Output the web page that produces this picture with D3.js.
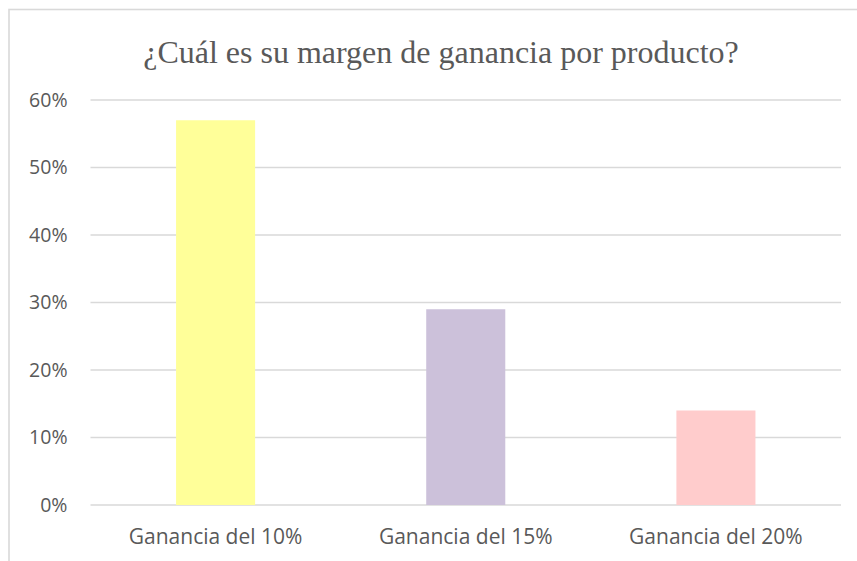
<!DOCTYPE html>
<html>
  <head>
    <meta charset="utf-8">
    <title>Margen de ganancia</title>
    <script src="https://d3js.org/d3.v7.min.js"></script>
    <style>
      body { margin: 0; background: #fff; }
      .tick text { fill: #595959; font-family: "Open Sans", sans-serif; font-size: 21px; }
      .y-axis .tick text { font-size: 19.5px; }
    </style>
  </head>
  <body>
    <svg width="857" height="561"></svg>

    <script>
      // chart data
      const categories = ["Ganancia del 10%", "Ganancia del 15%", "Ganancia del 20%"];
      const values = [0.57, 0.29, 0.14];
      const barColors = ["#FFFF99", "#CCC1DA", "#FFCCCC"];
      const yTicks = [0, 0.1, 0.2, 0.3, 0.4, 0.5, 0.6];

      const svg = d3.select("svg");

      // outer chart frame (runs past the right and bottom edge)
      svg.append("rect")
        .attr("x", 9).attr("y", 9.5)
        .attr("width", 870).attr("height", 580)
        .attr("fill", "#fff")
        .attr("stroke", "#d9d9d9")
        .attr("stroke-width", 1.6);

      // title
      svg.append("text")
        .attr("x", 441)
        .attr("y", 63)
        .attr("text-anchor", "middle")
        .attr("font-family", "'Liberation Serif', 'Times New Roman', serif")
        .attr("font-size", 32)
        .attr("fill", "#595959")
        .text("¿Cuál es su margen de ganancia por producto?");

      let x = d3.scaleBand()
        .domain(categories)
        .range([90.5, 841])
        .paddingInner(0.684)
        .paddingOuter(0.342);

      let y = d3.scaleLinear()
        .domain([0, 0.6])
        .range([505, 100]);

      // gridlines
      svg.append("g")
        .selectAll("line")
        .data(yTicks)
        .enter().append("line")
          .attr("x1", 90.5).attr("x2", 841)
          .attr("y1", d => y(d)).attr("y2", d => y(d))
          .attr("stroke", "#d9d9d9")
          .attr("stroke-width", 1.3);

      // bars
      svg.append("g")
        .selectAll("rect")
        .data(values)
        .enter().append("rect")
          .attr("x", (d, i) => x(categories[i]))
          .attr("y", d => y(d))
          .attr("width", x.bandwidth())
          .attr("height", d => y(0) - y(d))
          .attr("fill", (d, i) => barColors[i]);

      // y axis labels
      let yAxis = svg.append("g")
        .attr("class", "y-axis")
        .attr("transform", "translate(67.5, 0)")
        .call(d3.axisLeft(y).tickValues(yTicks).tickFormat(d3.format(".0%")).tickSize(0).tickPadding(0));
      yAxis.select(".domain").remove();

      // x axis labels
      let xAxis = svg.append("g")
        .attr("transform", "translate(0, 505)")
        .call(d3.axisBottom(x).tickSize(0).tickPadding(24));
      xAxis.select(".domain").remove();
    </script>
  </body>
</html>
